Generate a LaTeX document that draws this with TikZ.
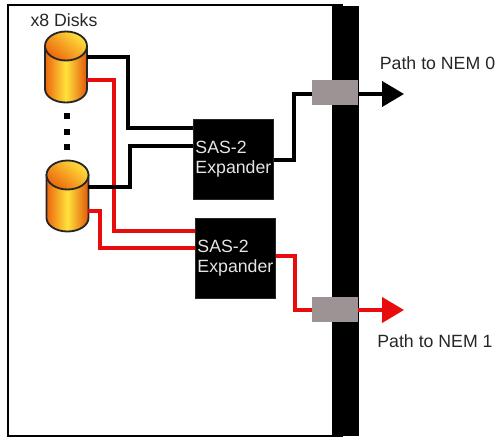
\documentclass[tikz,border=0pt]{standalone}
\usepackage{fontspec}
\setmainfont{Liberation Sans}
\usetikzlibrary{arrows.meta}
\definecolor{portGray}{HTML}{9C9494}
\definecolor{wireRed}{HTML}{E80C0C}
\definecolor{labelGray}{HTML}{262626}
\definecolor{diskEdge}{HTML}{EC660C}
\definecolor{diskMid}{HTML}{FFE23C}
\definecolor{diskDark}{HTML}{E2580A}
\tikzset{
  expander/.style={shape=rectangle,fill=black,draw=black!85,text=white!90!black,minimum width=2cm,minimum height=2cm,inner sep=0pt,text width=1.9cm,align=left,font=\fontsize{12.6}{14.4}\selectfont},
  port/.style={shape=rectangle,fill=portGray,minimum width=1.15cm,minimum height=0.63cm,inner sep=0pt},
  blackwire/.style={draw=black,line width=2.4pt},
  redwire/.style={draw=wireRed,line width=2.4pt},
  label/.style={text=labelGray,inner sep=0pt,font=\fontsize{12.6}{14}\selectfont},
  stopdot/.style={shape=rectangle,fill=black,minimum size=0.16cm,inner sep=0pt},
}
\newcommand{\disk}[3]{%
  \shade[left color=diskEdge,right color=diskDark,middle color=diskMid,draw=black!85,line width=1.3pt]
    (#2-21,#3) -- (#2-21,#3+43) arc (180:0:21 and 13.5) -- (#2+21,#3) -- cycle;
  \shade[left color=diskMid,right color=diskEdge,shading angle=-40,draw=black!85,line width=1.3pt]
    (#2,#3) ellipse (21 and 14.5);
  \node[shape=rectangle,minimum width=1.05cm,minimum height=1.75cm,inner sep=0pt] (#1) at (#2,#3+21) {};
}
\begin{document}
\begin{tikzpicture}[x=0.025cm,y=-0.025cm]
      \useasboundingbox (0,0) rectangle (498,438);

      \node[shape=rectangle,draw=black,line width=1.3pt,minimum width=8.35cm,minimum height=10.78cm,inner sep=0pt] (Blade) at (175,220.5) {};
      \node[shape=rectangle,fill=black,minimum width=0.68cm,minimum height=10.75cm,inner sep=0pt] (Mid) at (345.5,221) {};

      \disk{D1}{66}{46}
      \disk{D2}{67.5}{175}

      \node[stopdot] (S1) at (67,116) {};
      \node[stopdot] (S2) at (67,132) {};
      \node[stopdot] (S3) at (67,147) {};

      \node[expander] (E1) at (233.5,159) {SAS-2\\Expander};
      \node[expander] (E2) at (235.5,258) {SAS-2\\Expander};

      \node[port] (P1) at (335,92.5) {};
      \node[port] (P2) at (335,309.5) {};

      \node[label] (L0) at (64,20) {x8 Disks};
      \node[label] (L1) at (437.5,63) {Path to NEM 0};
      \node[label] (L2) at (435,341) {Path to NEM 1};

      \coordinate (D1k) at (87,57);
      \coordinate (D1r) at (87,80);
      \coordinate (D2k) at (88,187);
      \coordinate (D2r) at (88,211);
      \coordinate (E1a) at (193,128);
      \coordinate (E1b) at (193,146);
      \coordinate (E2a) at (195,231);
      \coordinate (E2b) at (195,248);
      \coordinate (E1o) at (274,160);
      \coordinate (E2o) at (276,256);
      \coordinate (P1i) at (312,94);
      \coordinate (P2i) at (312,310);
      \coordinate (P1o) at (358,94);
      \coordinate (P2o) at (358,310);
      \coordinate (T1) at (404,94);
      \coordinate (T2) at (404,310);

      \draw[redwire] (D1r) -- (114,80) -- (114,231) -- (E2a);
      \draw[redwire] (D2r) -- (100,211) -- (100,248) -- (E2b);
      \draw[redwire] (E2o) -- (295,256) -- (295,310) -- (P2i);
      \draw[blackwire] (D1k) -- (128,57) -- (128,128) -- (E1a);
      \draw[blackwire] (D2k) -- (130,187) -- (130,146) -- (E1b);
      \draw[blackwire] (E1o) -- (294,160) -- (294,94) -- (P1i);

      \draw[blackwire,-{Triangle[length=0.55cm,width=0.63cm]}] (P1o) -- (T1);
      \draw[redwire,-{Triangle[length=0.55cm,width=0.63cm]}] (P2o) -- (T2);
\end{tikzpicture}
\end{document}
